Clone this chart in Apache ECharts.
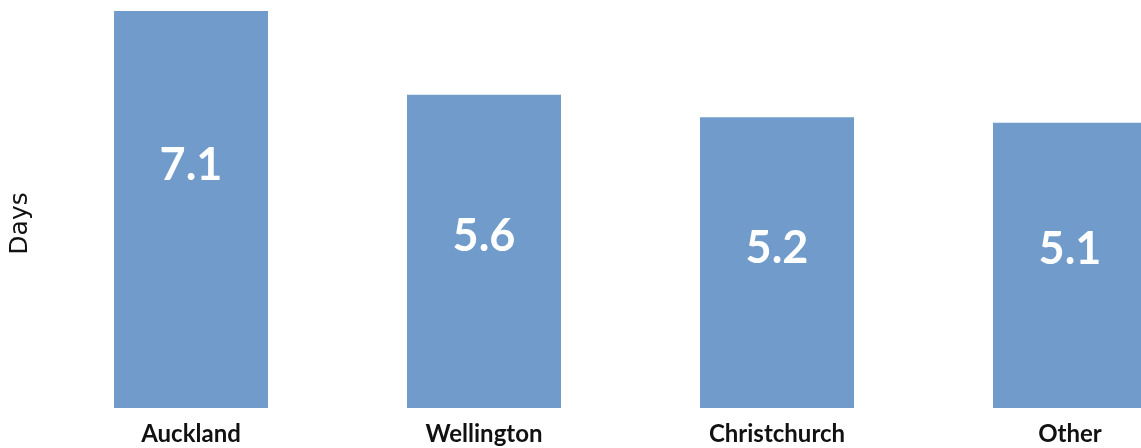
<!DOCTYPE html>
<html>
<head>
<meta charset="utf-8">
<script src="https://cdn.jsdelivr.net/npm/echarts@6/dist/echarts.min.js"></script>
<style>
html,body{margin:0;padding:0;background:#fff;}
#chart{width:1141px;height:448px;}
</style>
</head>
<body>
<div id="chart"></div>
<script>
var categories = ["Auckland", "Wellington", "Christchurch", "Other"];
var values = [7.1, 5.6, 5.2, 5.1];
var axisName = "Days";

var labelOffsets = [[0, -44], [0, -15], [0, -14], [0, -16]];

var chart = echarts.init(document.getElementById('chart'));
chart.setOption({
  animation: false,
  grid: { left: 44.5, width: 1172, top: 11, bottom: 40, containLabel: false, outerBoundsMode: 'none' },
  xAxis: {
    type: 'category',
    data: categories,
    axisLine: { show: false },
    axisTick: { show: false },
    axisLabel: {
      color: '#111',
      fontFamily: 'Lato',
      fontWeight: 'bold',
      fontSize: 24,
      margin: 14
    }
  },
  yAxis: {
    type: 'value',
    min: 0,
    max: 7.1,
    name: axisName,
    nameLocation: 'middle',
    nameRotate: 90,
    nameGap: 12,
    nameTextStyle: { color: '#111', fontFamily: 'DejaVu Sans', fontSize: 25, padding: [0, 28, 0, 0] },
    axisLine: { show: false },
    axisTick: { show: false },
    axisLabel: { show: false },
    splitLine: { show: false }
  },
  series: [{
    type: 'bar',
    barWidth: 154,
    itemStyle: { color: '#709bcb' },
    data: values.map(function (v, i) {
      return { value: v, label: { offset: labelOffsets[i] } };
    }),
    label: {
      show: true,
      position: 'inside',
      color: '#fff',
      fontFamily: 'Lato',
      fontWeight: 'bold',
      fontSize: 45
    }
  }]
});
</script>
</body>
</html>
